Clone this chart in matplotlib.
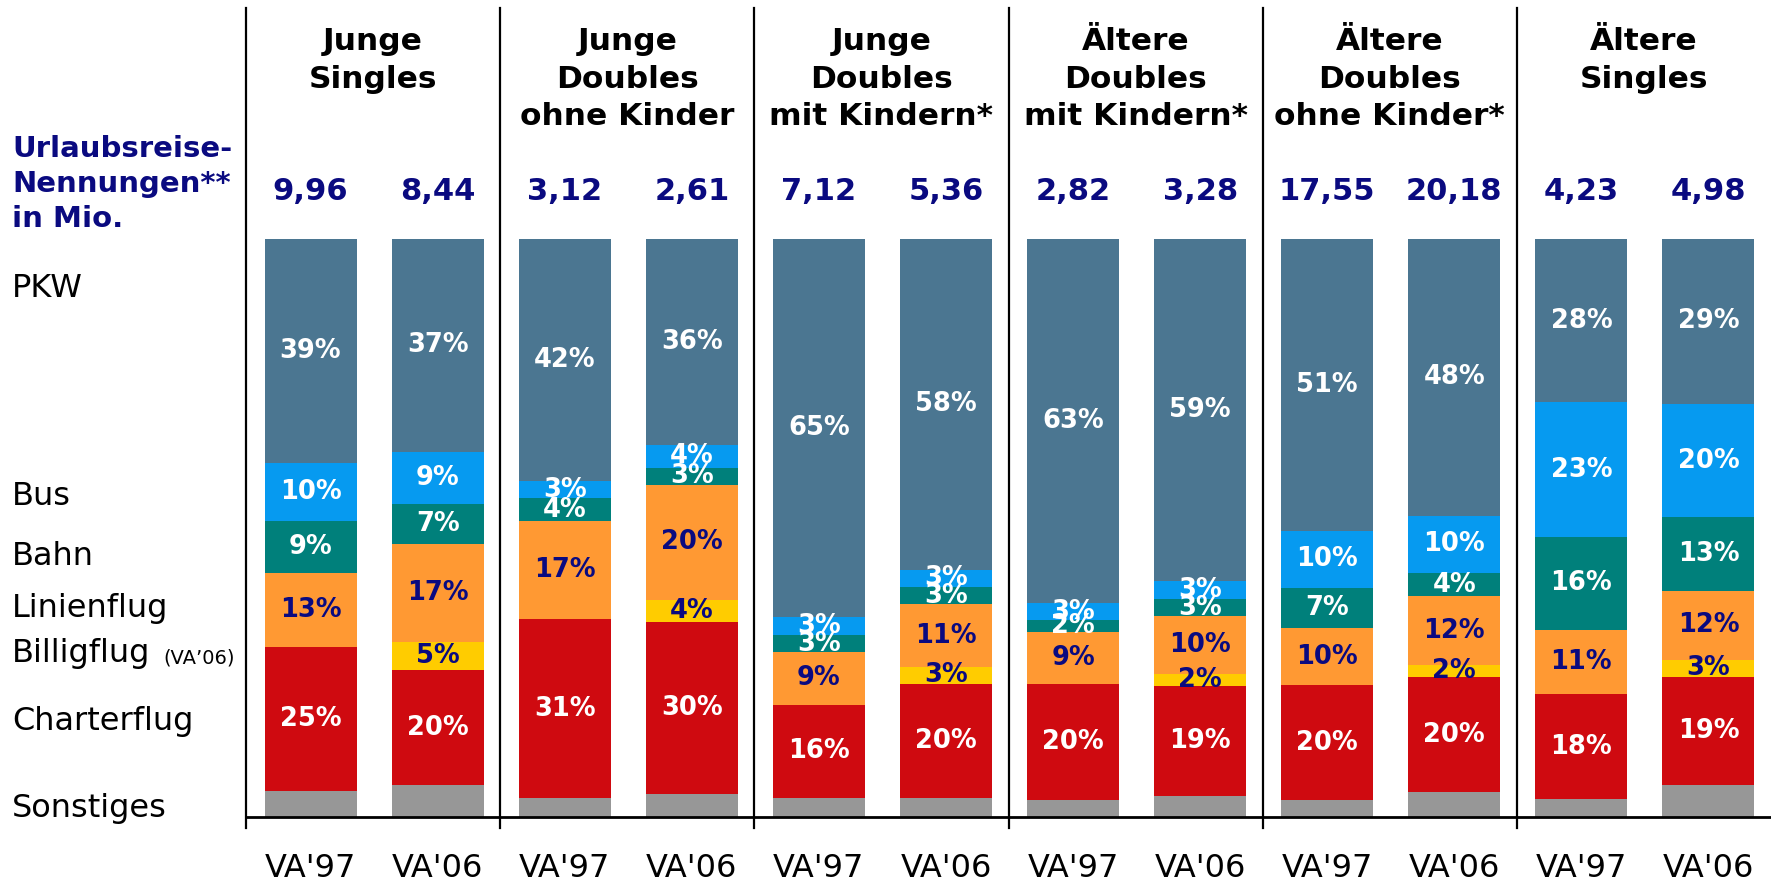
import matplotlib
matplotlib.use("Agg")
import matplotlib.pyplot as plt
import numpy as np

# Gruppen und Wellen
groups = ["Junge\nSingles", "Junge\nDoubles\nohne Kinder", "Junge\nDoubles\nmit Kindern*",
          "Ältere\nDoubles\nmit Kindern*", "Ältere\nDoubles\nohne Kinder*", "Ältere\nSingles"]
waves = ["VA'97", "VA'06"]
nennungen = ["9,96", "8,44", "3,12", "2,61", "7,12", "5,36",
             "2,82", "3,28", "17,55", "20,18", "4,23", "4,98"]

# Anteile in % je Balken (VA'97, VA'06 pro Gruppe)
pkw = [39, 37, 42, 36, 65, 58, 63, 59, 51, 48, 28, 29]
bus = [10, 9, 3, 4, 3, 3, 3, 3, 10, 10, 23, 20]
bahn = [9, 7, 4, 3, 3, 3, 2, 3, 7, 4, 16, 13]
linienflug = [13, 17, 17, 20, 9, 11, 9, 10, 10, 12, 11, 12]
billigflug = [0, 5, 0, 4, 0, 3, 0, 2, 0, 2, 0, 3]
charterflug = [25, 20, 31, 30, 16, 20, 20, 19, 20, 20, 18, 19]
sonstiges = [4.5, 5.5, 3.3, 4, 3.3, 3.3, 3, 3.6, 3, 4.3, 3, 5.7]

categories = ["Sonstiges", "Charterflug", "Billigflug", "Linienflug", "Bahn", "Bus", "PKW"]
series = [sonstiges, charterflug, billigflug, linienflug, bahn, bus, pkw]
colors = ["#979797", "#CF0A10", "#FFCC00", "#FF9933", "#00807B", "#069AF0", "#4B7691"]
label_colors = [None, "white", "#0A0A80", "#0A0A80", "white", "white", "white"]

NAVY = "#0A0A80"
W, H = 1771, 882

fig = plt.figure(figsize=(W / 100, H / 100), dpi=100)
ax = fig.add_axes([246 / W, 65 / H, 1525 / W, 578 / H])
ax.set_xlim(0, 6)
ax.set_ylim(0, 100)

def ypx(p):
    # Pixelzeile -> Datenkoordinate
    return (817 - p) / 5.78

vals = np.array(series, dtype=float)
vals = vals / vals.sum(axis=0) * 100
x = np.array([[g + 0.254, g + 0.754] for g in range(6)]).ravel()
bw = 0.362

bottom = np.zeros(len(x))
for i, cat in enumerate(categories):
    ax.bar(x, vals[i], bw, bottom=bottom, color=colors[i], linewidth=0)
    if label_colors[i]:
        for j in range(len(x)):
            if series[i][j] > 0:
                ax.text(x[j], bottom[j] + vals[i][j] / 2, f"{series[i][j]}%",
                        ha="center", va="center", fontsize=18.5, fontweight="bold",
                        color=label_colors[i])
    bottom += vals[i]

for s in ["top", "left", "right"]:
    ax.spines[s].set_visible(False)
ax.spines["bottom"].set_linewidth(2)
ax.set_yticks([])
ax.set_xticks([])

# Trennlinien
for g in range(6):
    ax.plot([g, g], [ypx(828), ypx(8)], color="black", lw=1.6, clip_on=False)

# Kopfzeilen
for g, name in enumerate(groups):
    for k, line in enumerate(name.split("\n")):
        ax.text(g + 0.5, ypx(50 + 37.5 * k), line, ha="center", va="baseline",
                fontsize=22.5, fontweight="bold", color="black", clip_on=False)

for j in range(len(x)):
    ax.text(x[j], ypx(200), nennungen[j], ha="center", va="baseline",
            fontsize=22, fontweight="bold", color=NAVY, clip_on=False)
    ax.text(x[j], ypx(877), waves[j % 2], ha="center", va="baseline",
            fontsize=23, color="black", clip_on=False)

# linke Beschriftung
for k, line in enumerate(["Urlaubsreise-", "Nennungen**", "in Mio."]):
    fig.text(12 / W, 1 - (157 + 35 * k) / H, line, ha="left", va="baseline",
             fontsize=21, fontweight="bold", color=NAVY)

left_labels = ["PKW", "Bus", "Bahn", "Linienflug", "Billigflug", "Charterflug", "Sonstiges"]
left_base = [297, 505, 565, 617, 662, 730, 817]
for lab, b in zip(left_labels, left_base):
    fig.text(12 / W, 1 - b / H, lab, ha="left", va="baseline", fontsize=23, color="black")
fig.text(163 / W, 1 - 663 / H, "(VA\u201906)", ha="left", va="baseline", fontsize=14, color="black")

fig.savefig("out.png", dpi=100)
